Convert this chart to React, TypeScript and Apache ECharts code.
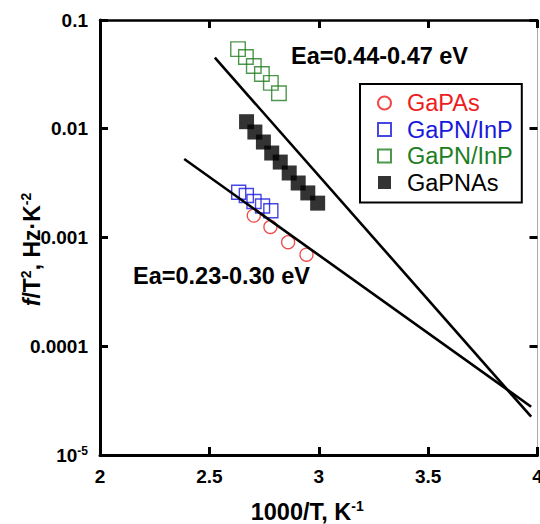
import React, { useEffect, useRef } from "react";
import * as echarts from "echarts";

// ---- data ----
const gapasX = [2.703, 2.779, 2.86, 2.944];
const gapasY = [0.00159, 0.00125, 0.000905, 0.000695];

const gapnInpBlueX = [2.634, 2.669, 2.704, 2.743, 2.781];
const gapnInpBlueY = [0.00261, 0.00243, 0.00214, 0.00195, 0.00176];

const gapnInpGreenX = [2.631, 2.667, 2.703, 2.74, 2.781, 2.818];
const gapnInpGreenY = [0.054, 0.0457, 0.0378, 0.0319, 0.0264, 0.0212];

const gapnasX = [2.67, 2.708, 2.747, 2.785, 2.824, 2.865, 2.906, 2.95, 2.995];
const gapnasY = [0.01161, 0.00933, 0.00755, 0.00598, 0.00494, 0.00392, 0.00317, 0.00257, 0.00207];

const fitHighX = [2.525, 3.971];
const fitHighY = [0.045, 2.25e-5];
const fitLowX = [2.385, 3.971];
const fitLowY = [0.00527, 2.78e-5];

const xTicks = [2, 2.5, 3, 3.5, 4];
const yTickExponents = [-5, -4, -3, -2, -1];
const yTickLabels = ["10^-5", "0.0001", "0.001", "0.01", "0.1"];

const legendNames = ["GaPAs", "GaPN/InP-blue", "GaPN/InP-green", "GaPNAs"];
const legendLabels = ["GaPAs", "GaPN/InP", "GaPN/InP", "GaPNAs"];

const annotHigh = "Ea=0.44-0.47 eV";
const annotLow = "Ea=0.23-0.30 eV";

// ---- styles ----
const FONT = "'Liberation Sans', Arial, Helvetica, sans-serif";
const RED = "#ee1c1c";
const BLUE = "#1818dc";
const GREEN = "#217d21";
const BLACK = "#000000";
const TICK_FS = 19;

const zip = (xs: number[], ys: number[]) => xs.map((x, i) => [x, ys[i]]);

const yLabelFormatter = (v: number) => {
  const e = Math.round(Math.log10(v));
  const idx = yTickExponents.indexOf(e);
  if (idx < 0) return "";
  const lab = yTickLabels[idx];
  if (lab.includes("^")) {
    const [b, s] = lab.split("^");
    return `{b|${b}}{s|${s}}`;
  }
  return `{b|${lab}}`;
};

export default function App() {
  const ref = useRef<HTMLDivElement>(null);

  useEffect(() => {
    if (!ref.current) return;
    document.body.style.margin = "0";
    const chart = echarts.init(ref.current, undefined, { renderer: "svg" });

    const axisLineStyle = { color: BLACK, width: 3 };
    const tickStyle = { show: true, inside: true, length: 8, lineStyle: { color: BLACK, width: 3 } };

    const option: any = {
      animation: false,
      backgroundColor: "#ffffff",
      textStyle: { fontFamily: FONT },
      grid: { left: 100, right: 2.5, top: 20, bottom: 69, containLabel: false, outerBoundsMode: "none" },
      xAxis: [
        {
          type: "value",
          position: "bottom",
          min: xTicks[0],
          max: xTicks[xTicks.length - 1],
          interval: 0.5,
          axisLine: { show: true, onZero: false, lineStyle: axisLineStyle },
          axisTick: tickStyle,
          splitLine: { show: false },
          axisLabel: {
            color: BLACK,
            fontSize: TICK_FS,
            fontWeight: "bold",
            fontFamily: FONT,
            margin: 12,
            formatter: (v: number) => String(v),
          },
          name: "{a|1000/T, K}{s|-1}",
          nameLocation: "middle",
          nameGap: 44,
          nameMoveOverlap: false,
          nameTextStyle: {
            padding: [0, 23, 0, 0],
            rich: {
              a: { fontSize: 23.5, fontWeight: "bold", fontFamily: FONT, color: BLACK, lineHeight: 26 },
              s: { fontSize: 14, fontWeight: "bold", fontFamily: FONT, color: BLACK, padding: [0, 0, 12, 0] },
            },
          },
        },
        {
          type: "value",
          position: "top",
          min: xTicks[0],
          max: xTicks[xTicks.length - 1],
          interval: 0.5,
          axisLine: { show: true, onZero: false, lineStyle: { color: BLACK, width: 2.5 } },
          axisTick: tickStyle,
          axisLabel: { show: false },
          splitLine: { show: false },
        },
      ],
      yAxis: [
        {
          type: "log",
          logBase: 10,
          position: "left",
          min: 1e-5,
          max: 0.1,
          axisLine: { show: true, onZero: false, lineStyle: axisLineStyle },
          axisTick: tickStyle,
          minorTick: { show: false },
          splitLine: { show: false },
          axisLabel: {
            margin: 12,
            formatter: yLabelFormatter,
            rich: {
              b: { fontSize: TICK_FS, fontWeight: "bold", fontFamily: FONT, color: BLACK },
              s: { fontSize: 12, fontWeight: "bold", fontFamily: FONT, color: BLACK, padding: [0, 0, 9, 0] },
            },
          },
          name: "{i|f}{a|/T}{s|2}{a|, Hz·K}{s|-2}",
          nameLocation: "middle",
          nameRotate: 90,
          nameGap: 55,
          nameMoveOverlap: false,
          nameTextStyle: {
            padding: [0, 24, 0, 0],
            rich: {
              i: { fontSize: 23, fontWeight: "bold", fontStyle: "italic", fontFamily: FONT, color: BLACK, lineHeight: 26 },
              a: { fontSize: 23, fontWeight: "bold", fontFamily: FONT, color: BLACK, lineHeight: 26 },
              s: { fontSize: 14, fontWeight: "bold", fontFamily: FONT, color: BLACK, padding: [0, 0, 12, 0] },
            },
          },
        },
        {
          type: "log",
          logBase: 10,
          position: "right",
          min: 1e-5,
          max: 0.1,
          axisLine: { show: true, onZero: false, lineStyle: { color: "#a8a8a8", width: 1 } },
          axisTick: tickStyle,
          minorTick: { show: false },
          axisLabel: { show: false },
          splitLine: { show: false },
        },
      ],
      legend: {
        orient: "vertical",
        left: 360,
        top: 84,
        padding: [7, 9, 8, 17],
        itemGap: 2.5,
        itemWidth: 13,
        itemHeight: 13,
        borderColor: BLACK,
        borderWidth: 2,
        backgroundColor: "#ffffff",
        selectedMode: false,
        formatter: (name: string) => legendLabels[legendNames.indexOf(name)],
        textStyle: { fontSize: 23.5, fontFamily: FONT, lineHeight: 24, padding: [0, 0, 0, 11] },
        data: [
          { name: legendNames[0], textStyle: { color: RED } },
          { name: legendNames[1], textStyle: { color: BLUE } },
          { name: legendNames[2], textStyle: { color: GREEN } },
          { name: legendNames[3], textStyle: { color: BLACK } },
        ],
      },
      graphic: [
        {
          type: "text",
          left: 291,
          top: 44,
          style: { text: annotHigh, fontSize: 23.5, fontWeight: "bold", fontFamily: FONT, fill: BLACK },
        },
        {
          type: "text",
          left: 133,
          top: 264,
          style: { text: annotLow, fontSize: 23.5, fontWeight: "bold", fontFamily: FONT, fill: BLACK },
        },
      ],
      series: [
        {
          name: legendNames[0],
          type: "scatter",
          symbol: "circle",
          symbolSize: 13,
          itemStyle: { color: "rgba(255,255,255,0)", borderColor: RED, borderWidth: 1.3 },
          data: zip(gapasX, gapasY),
        },
        {
          name: legendNames[1],
          type: "scatter",
          symbol: "rect",
          symbolSize: 14,
          itemStyle: { color: "rgba(255,255,255,0)", borderColor: BLUE, borderWidth: 1.4 },
          data: zip(gapnInpBlueX, gapnInpBlueY),
        },
        {
          name: legendNames[2],
          type: "scatter",
          symbol: "rect",
          symbolSize: 14.5,
          itemStyle: { color: "rgba(255,255,255,0)", borderColor: GREEN, borderWidth: 1.4 },
          data: zip(gapnInpGreenX, gapnInpGreenY),
        },
        {
          name: legendNames[3],
          type: "scatter",
          symbol: "rect",
          symbolSize: 15,
          itemStyle: { color: BLACK },
          data: zip(gapnasX, gapnasY),
        },
        {
          name: "fitHigh",
          type: "line",
          symbol: "none",
          silent: true,
          lineStyle: { color: BLACK, width: 2.6 },
          data: zip(fitHighX, fitHighY),
          z: 5,
        },
        {
          name: "fitLow",
          type: "line",
          symbol: "none",
          silent: true,
          lineStyle: { color: BLACK, width: 2.6 },
          data: zip(fitLowX, fitLowY),
          z: 5,
        },
      ],
    };

    chart.setOption(option);
    return () => chart.dispose();
  }, []);

  return <div ref={ref} style={{ width: 540, height: 524 }} />;
}
